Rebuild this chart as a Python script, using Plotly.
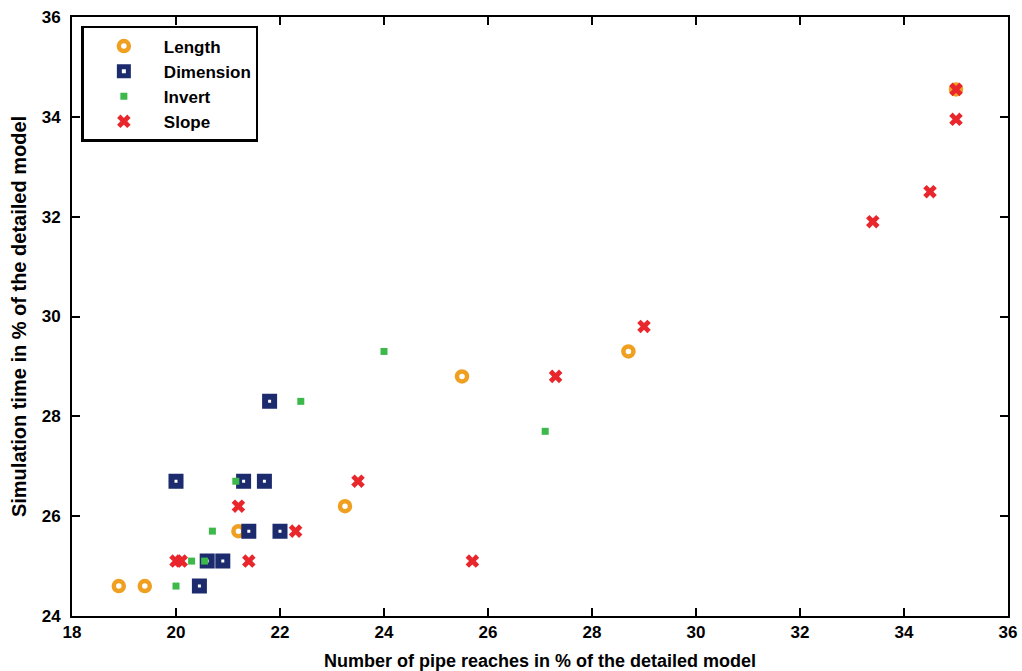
import plotly.graph_objects as go

length_x = [18.9, 19.4, 20.0, 21.2, 23.25, 25.5, 28.7, 35.0]
length_y = [24.6, 24.6, 26.7, 25.7, 26.2, 28.8, 29.3, 34.55]

dim_x = [20.45, 20.6, 20.9, 21.4, 22.0, 20.0, 21.3, 21.7, 21.8]
dim_y = [24.6, 25.1, 25.1, 25.7, 25.7, 26.7, 26.7, 26.7, 28.3]

inv_x = [20.0, 20.3, 20.55, 20.7, 21.15, 22.4, 24.0, 27.1]
inv_y = [24.6, 25.1, 25.1, 25.7, 26.7, 28.3, 29.3, 27.7]

slope_x = [20.0, 20.1, 21.4, 22.3, 21.2, 23.5, 25.7, 27.3, 29.0, 33.4, 34.5, 35.0, 35.0]
slope_y = [25.1, 25.1, 25.1, 25.7, 26.2, 26.7, 25.1, 28.8, 29.8, 31.9, 32.5, 33.95, 34.55]

x_ticks = [18, 20, 22, 24, 26, 28, 30, 32, 34, 36]
y_ticks = [24, 26, 28, 30, 32, 34, 36]

FONT = "Liberation Sans"

fig = go.Figure()
fig.add_trace(go.Scatter(x=length_x, y=length_y, mode="markers", name="<b>Length</b>",
                         marker=dict(symbol="circle-open", size=10, color="#f0a020",
                                     line=dict(width=4.5, color="#f0a020"))))
fig.add_trace(go.Scatter(x=dim_x, y=dim_y, mode="markers", name="<b>Dimension</b>",
                         marker=dict(symbol="square-open", size=9, color="#1c2a6e",
                                     line=dict(width=6, color="#1c2a6e"))))
fig.add_trace(go.Scatter(x=inv_x, y=inv_y, mode="markers", name="<b>Invert</b>",
                         marker=dict(symbol="square", size=7, color="#3db84a",
                                     line=dict(width=0))))
fig.add_trace(go.Scatter(x=slope_x, y=slope_y, mode="markers", name="<b>Slope</b>",
                         marker=dict(symbol="x", size=12, color="#e8262c",
                                     line=dict(width=0))))

axis_common = dict(showgrid=False, zeroline=False, showline=True, linecolor="black",
                   linewidth=2, mirror="ticks", ticks="inside", ticklen=8,
                   tickwidth=1.5, tickcolor="black", automargin=False,
                   tickfont=dict(family=FONT, size=17, color="black"))

fig.update_xaxes(range=[18, 36], tickvals=x_ticks,
                 ticktext=[f"<b>{v}</b>" for v in x_ticks],
                 title=dict(text="<b>Number of pipe reaches in % of the detailed model</b>",
                            font=dict(family=FONT, size=18, color="black"), standoff=16),
                 **axis_common)
fig.update_yaxes(range=[24, 36], tickvals=y_ticks,
                 ticktext=[f"<b>{v}</b>" for v in y_ticks],
                 ticklabelstandoff=6,
                 title=dict(text="<b>Simulation time in % of the detailed model</b>",
                            font=dict(family=FONT, size=20, color="black"), standoff=10),
                 **axis_common)

fig.update_layout(
    width=1022, height=671,
    margin=dict(l=72, r=14, t=17, b=55),
    paper_bgcolor="white", plot_bgcolor="white",
    font=dict(family=FONT, color="black"),
    legend=dict(x=0.01, y=0.985, xanchor="left", yanchor="top",
                bgcolor="white", bordercolor="black", borderwidth=2.5,
                font=dict(family=FONT, size=17, color="black"),
                itemwidth=70, tracegroupgap=0),
    showlegend=True,
)

fig.write_html("out.html")
